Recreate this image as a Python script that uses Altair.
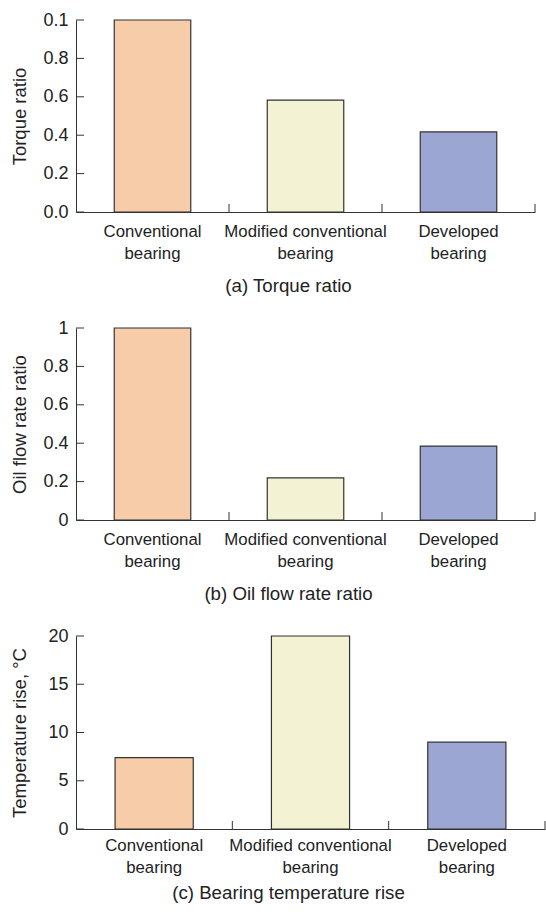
import altair as alt
import pandas as pd

CATEGORIES = ["Conventional|bearing", "Modified conventional|bearing", "Developed|bearing"]
COLORS = ["#F6CDA8", "#F3F3D3", "#9BA6D2"]

TORQUE = [1.0, 0.583, 0.417]
OILFLOW = [1.0, 0.219, 0.385]
TEMPRISE = [7.4, 20.0, 9.0]

TORQUE_TICKS = [0.0, 0.2, 0.4, 0.6, 0.8, 1.0]
TORQUE_TICK_LABELS = ["0.0", "0.2", "0.4", "0.6", "0.8", "0.1"]
OIL_TICKS = [0.0, 0.2, 0.4, 0.6, 0.8, 1.0]
OIL_TICK_LABELS = ["0", "0.2", "0.4", "0.6", "0.8", "1"]
TEMP_TICKS = [0, 5, 10, 15, 20]
TEMP_TICK_LABELS = ["0", "5", "10", "15", "20"]

PANELS = [
    dict(values=TORQUE, ticks=TORQUE_TICKS, labels=TORQUE_TICK_LABELS, domain=[0, 1],
         ytitle="Torque ratio", caption="(a) Torque ratio", width=459, height=192,
         lpad=11, tpad=15),
    dict(values=OILFLOW, ticks=OIL_TICKS, labels=OIL_TICK_LABELS, domain=[0, 1],
         ytitle="Oil flow rate ratio", caption="(b) Oil flow rate ratio", width=459, height=192,
         lpad=11, tpad=15),
    dict(values=TEMPRISE, ticks=TEMP_TICKS, labels=TEMP_TICK_LABELS, domain=[0, 20],
         ytitle="Temperature rise, \u00b0C", caption="(c) Bearing temperature rise", width=469, height=193,
         lpad=8, tpad=8),
]

AXIS_COLOR = "#333333"
TEXT_COLOR = "#222222"
FONT = "Liberation Sans"


def panel(p):
    df = pd.DataFrame({"cat": CATEGORIES, "value": p["values"], "color": COLORS})
    ticks_df = pd.DataFrame({"value": p["ticks"]})
    lookup = "{" + ",".join(f"'{t:g}':'{l}'" for t, l in zip(p["ticks"], p["labels"])) + "}"
    label_expr = f"{lookup}[toString(datum.value)]"
    xscale = alt.Scale(domain=CATEGORIES, paddingInner=0, paddingOuter=0)
    yscale = alt.Scale(domain=p["domain"], nice=False, zero=True)

    xaxis = alt.Axis(title=p["caption"], labelAngle=0, ticks=False,
                     labelExpr="split(datum.label, '|')",
                     labelFont=FONT, labelFontSize=16.8, labelLineHeight=22,
                     labelPadding=p["lpad"], labelColor=TEXT_COLOR,
                     titleFont=FONT, titleFontSize=18.7, titleFontWeight="normal",
                     titleColor=TEXT_COLOR, titlePadding=p["tpad"], titleX=212,
                     titleAlign="center",
                     domainColor=AXIS_COLOR, labelLimit=300)
    yaxis = alt.Axis(title=p["ytitle"], values=p["ticks"], ticks=False, grid=False,
                     labelExpr=label_expr, labelFont=FONT, labelFontSize=18,
                     labelColor=TEXT_COLOR, labelPadding=8,
                     titleFont=FONT, titleFontSize=18.5, titleFontWeight="normal",
                     titleColor=TEXT_COLOR, titleX=-57, titleY=p["height"] / 2,
                     titleAlign="center", titleBaseline="middle", titleAngle=270,
                     domainColor=AXIS_COLOR)

    bars = alt.Chart(df).mark_bar(
        width=alt.RelativeBandSize(0.5), stroke="#333333", strokeWidth=1.2
    ).encode(
        x=alt.X("cat:N", scale=xscale, sort=CATEGORIES, axis=xaxis),
        y=alt.Y("value:Q", scale=yscale, axis=yaxis),
        color=alt.Color("color:N", scale=None),
    )

    yticks = alt.Chart(ticks_df).mark_rule(color=AXIS_COLOR, strokeWidth=1).encode(
        y=alt.Y("value:Q", scale=yscale, axis=yaxis),
        x=alt.value(0), x2=alt.value(8),
    )

    xticks = alt.Chart(df).mark_rule(color=AXIS_COLOR, strokeWidth=1).encode(
        x=alt.X("cat:N", scale=xscale, sort=CATEGORIES, bandPosition=1, axis=xaxis),
        y=alt.value(p["height"]), y2=alt.value(p["height"] - 8),
    )

    return alt.layer(bars, yticks, xticks).properties(width=p["width"], height=p["height"])


chart = alt.vconcat(*[panel(p) for p in PANELS], spacing=23).properties(
    padding={"left": 10, "top": 11, "right": 0, "bottom": 0},
    background="white",
).configure_view(stroke=None).configure_axis(domainWidth=1)

chart.save("out.html", embed_options={"renderer": "svg", "actions": False})
